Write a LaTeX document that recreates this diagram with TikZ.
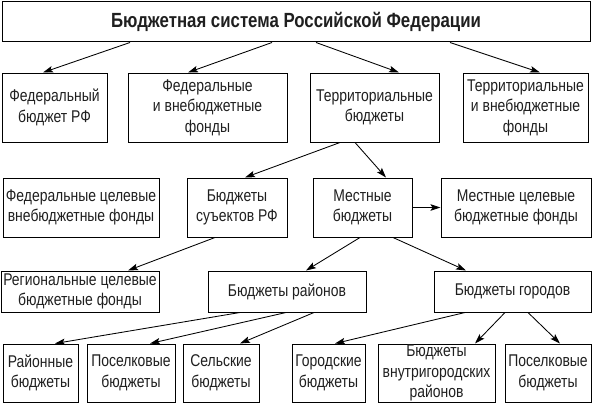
\documentclass[tikz,border=0pt]{standalone}
\usepackage{fontspec}
\setmainfont{Liberation Sans}[FakeStretch=0.82]
\usepackage{tikz}
\usetikzlibrary{arrows.meta}

\begin{document}
\begin{tikzpicture}[x=1pt, y=-1pt,
  box/.style={draw, line width=1pt, align=center, inner sep=0pt, font=\fontsize{17}{20.5}\selectfont, text=black!88},
  arr/.style={line width=0.85pt, -{Stealth[length=10pt, width=6.5pt, inset=2pt]}}]
\useasboundingbox (0,0) rectangle (593,404);
\node[box, minimum width=588pt, minimum height=40pt, font=\bfseries\fontsize{20.5}{24}\selectfont] (bs) at (296,22) {Бюджетная система Российской Федерации};
% first row
\node[box, minimum width=105pt, minimum height=69pt] (fb) at (54.5,107.5) {Федеральный\\бюджет РФ};
\node[box, minimum width=159pt, minimum height=69pt] (fvf) at (207.5,107.5) {Федеральные\\и внебюджетные\\фонды};
\node[box, minimum width=129pt, minimum height=69pt] (tb) at (374.5,107.5) {Территориальные\\бюджеты};
\node[box, minimum width=125pt, minimum height=69pt] (tvf) at (525.5,107.5) {Территориальные\\и внебюджетные\\фонды};
% second row
\node[box, minimum width=156pt, minimum height=59pt] (fcf) at (81,207.5) {Федеральные целевые\\внебюджетные фонды};
\node[box, minimum width=100pt, minimum height=59pt] (sb) at (237,207.5) {Бюджеты\\суъектов РФ};
\node[box, minimum width=99pt, minimum height=59pt] (mb) at (362.5,207.5) {Местные\\бюджеты};
\node[box, minimum width=150pt, minimum height=59pt] (mcf) at (516,207.5) {Местные целевые\\бюджетные фонды};
% third row
\node[box, minimum width=158pt, minimum height=41pt] (rcf) at (80,291.5) {Региональные целевые\\бюджетные фонды};
\node[box, minimum width=158pt, minimum height=41pt] (br) at (287,291.5) {Бюджеты районов};
\node[box, minimum width=157pt, minimum height=41pt] (bg) at (512.5,291.5) {Бюджеты городов};
% fourth row
\node[box, minimum width=75pt, minimum height=58pt] (rb) at (40.5,373) {Районные\\бюджеты};
\node[box, minimum width=88pt, minimum height=58pt] (pb) at (131,373) {Поселковые\\бюджеты};
\node[box, minimum width=76pt, minimum height=58pt] (cb) at (221,373) {Сельские\\бюджеты};
\node[box, minimum width=73pt, minimum height=58pt] (gb) at (328.5,373) {Городские\\бюджеты};
\node[box, minimum width=117pt, minimum height=58pt] (vb) at (436.5,373) {Бюджеты\\внутригородских\\районов};
\node[box, minimum width=86pt, minimum height=58pt] (pb2) at (548,373) {Поселковые\\бюджеты};
% arrows
\foreach \a/\sa/\b/\sb in {bs/-166/fb/-11.5, bs/-24/fvf/-19.5, bs/20/tb/24.5, bs/154/tvf/14.5,
  tb/-34.5/sb/8, tb/-19.5/mb/23.5, sb/-22/rcf/48, mb/-2.5/br/19, mb/30.5/bg/-46.5,
  br/-47/rb/14.5, br/-1/pb/19, br/27/cb/19, bg/-47.5/gb/6.5, bg/-7.5/vb/38.5, bg/15.5/pb2/12}
  \draw[arr] ([xshift=\sa pt]\a.south) -- ([xshift=\sb pt]\b.north);
\draw[arr] (mb.east) -- (mcf.west);
\end{tikzpicture}
\end{document}
